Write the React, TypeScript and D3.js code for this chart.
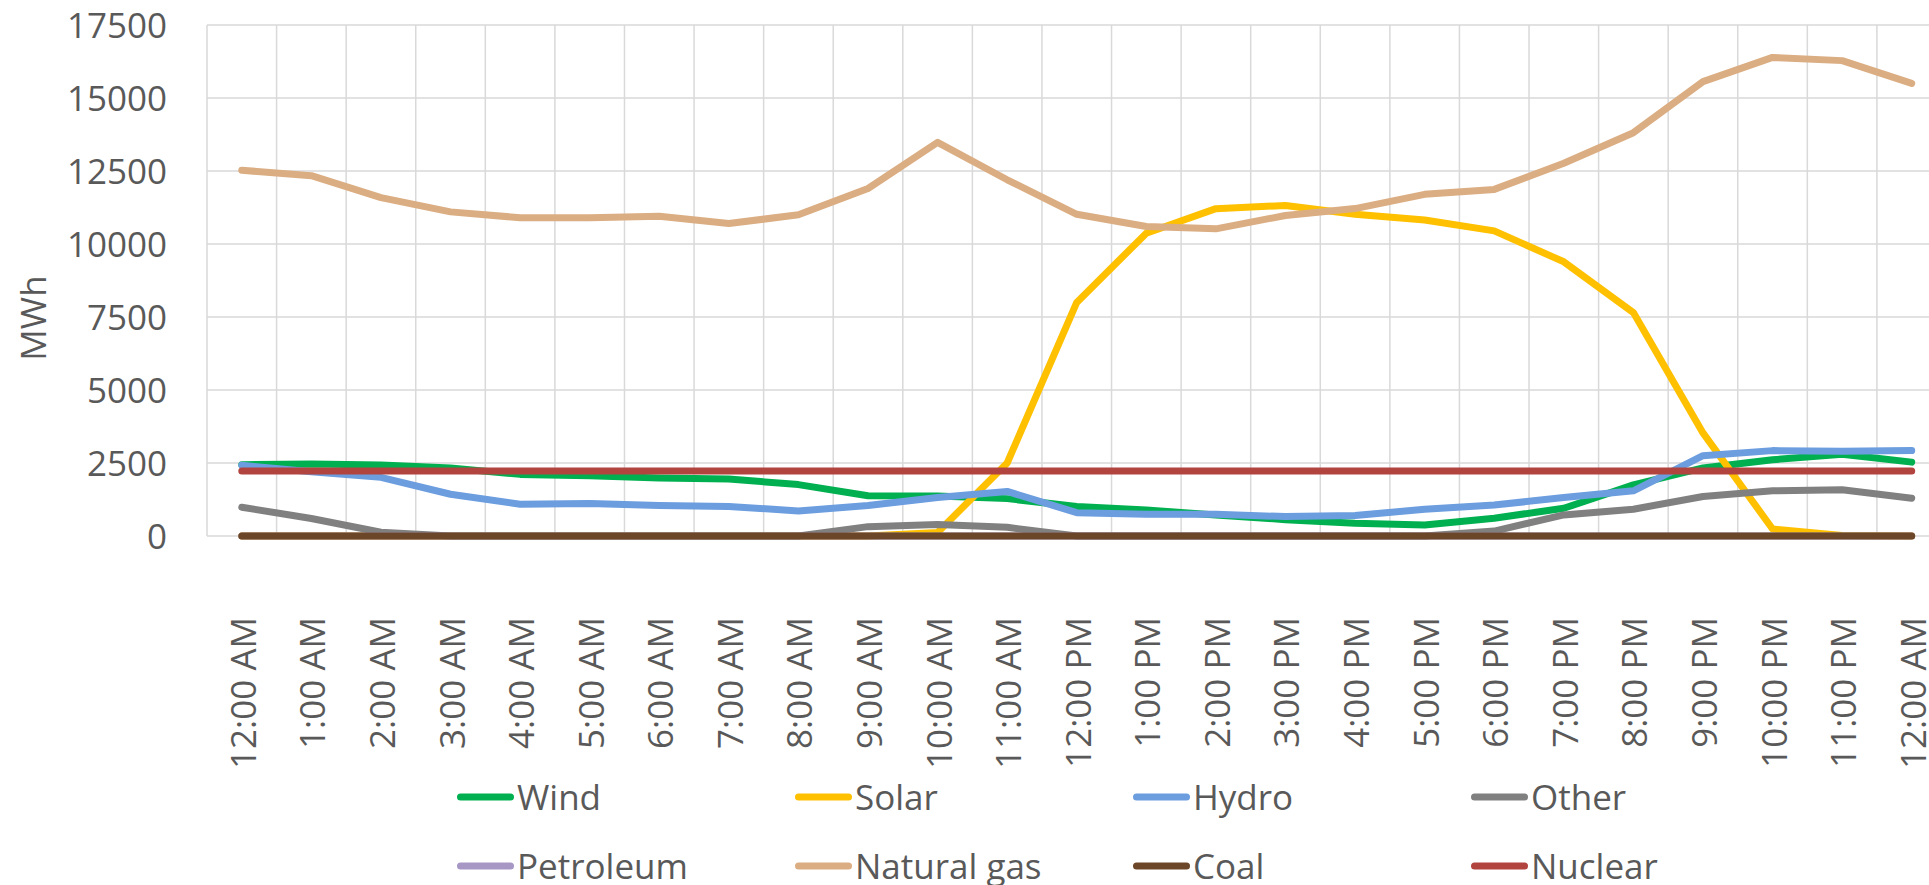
import React from "react";
import * as d3 from "d3";

// Hourly generation by source over one day (MWh)
const hours = [
  "12:00 AM", "1:00 AM", "2:00 AM", "3:00 AM", "4:00 AM", "5:00 AM", "6:00 AM",
  "7:00 AM", "8:00 AM", "9:00 AM", "10:00 AM", "11:00 AM", "12:00 PM", "1:00 PM",
  "2:00 PM", "3:00 PM", "4:00 PM", "5:00 PM", "6:00 PM", "7:00 PM", "8:00 PM",
  "9:00 PM", "10:00 PM", "11:00 PM", "12:00 AM",
];

const wind = [2442, 2470, 2430, 2330, 2110, 2060, 1990, 1950, 1760, 1380, 1370, 1280, 1010, 890, 720, 560, 440, 380, 610, 950, 1750, 2330, 2610, 2800, 2530];
const solar = [0, 0, 0, 0, 0, 0, 0, 0, 0, 0, 120, 2500, 8000, 10370, 11210, 11320, 11020, 10820, 10450, 9390, 7650, 3530, 240, 20, 0];
const hydro = [2420, 2200, 2010, 1430, 1090, 1110, 1043, 1010, 860, 1043, 1318, 1525, 800, 745, 745, 665, 699, 917, 1060, 1318, 1548, 2752, 2924, 2901, 2924];
const other = [986, 600, 130, 0, 0, 0, 0, 0, 0, 321, 390, 298, 0, 0, 0, 0, 0, 0, 170, 722, 917, 1353, 1548, 1582, 1296];
const petroleum = [0, 0, 0, 0, 0, 0, 0, 0, 0, 0, 0, 0, 0, 0, 0, 0, 0, 0, 0, 0, 0, 0, 0, 0, 0];
const naturalGas = [12525, 12340, 11590, 11100, 10900, 10900, 10950, 10700, 11000, 11900, 13480, 12200, 11017, 10600, 10520, 10977, 11213, 11700, 11870, 12764, 13812, 15560, 16390, 16280, 15500];
const coal = [0, 0, 0, 0, 0, 0, 0, 0, 0, 0, 0, 0, 0, 0, 0, 0, 0, 0, 0, 0, 0, 0, 0, 0, 0];
const nuclear = [2230, 2230, 2230, 2230, 2230, 2230, 2230, 2230, 2230, 2225, 2230, 2230, 2230, 2230, 2230, 2230, 2230, 2230, 2230, 2230, 2230, 2230, 2230, 2230, 2230];

const yTicks = [0, 2500, 5000, 7500, 10000, 12500, 15000, 17500];

const seriesNames = ["Wind", "Solar", "Hydro", "Other", "Petroleum", "Natural gas", "Coal", "Nuclear"];
const seriesValues = [wind, solar, hydro, other, petroleum, naturalGas, coal, nuclear];
const seriesColors = ["#00B050", "#FFC000", "#6B9DDF", "#808080", "#A797C4", "#DBAD82", "#6C4628", "#B24440"];

const W = 1929;
const H = 885;
const plot = { left: 207, top: 25, bottom: 536, step: 69.58 };
const FONT = "'Open Sans', 'Noto Sans', sans-serif";
const TEXT = "#595959";
const GRID = "#d9d9d9";

export default function App() {
  const idx = hours.map((_, i) => i);
  const x = d3
    .scaleBand<number>()
    .domain(idx)
    .range([plot.left, plot.left + plot.step * hours.length])
    .padding(0);
  const y = d3.scaleLinear().domain([0, 17500]).range([plot.bottom, plot.top]);
  const cx = (i: number) => (x(i) as number) + x.bandwidth() / 2;
  const right = plot.left + plot.step * hours.length;

  const line = d3
    .line<number>()
    .x((_, i) => cx(i))
    .y((d) => y(d));

  const gridX = d3.range(hours.length + 1).map((k) => plot.left + k * x.bandwidth());

  const legendCols = [457, 795, 1133, 1471];
  const legendRows = [797, 866];

  return (
    <svg
      width={W}
      height={H}
      style={{ position: "absolute", left: 0, top: 0, display: "block", background: "#fff" }}
      fontFamily={FONT}
    >
      {/* grid */}
      <g stroke={GRID} strokeWidth={1.5}>
        {yTicks.map((t) => (
          <line key={"h" + t} x1={plot.left} x2={right} y1={y(t)} y2={y(t)} />
        ))}
        {gridX.map((gx, k) => (
          <line key={"v" + k} x1={gx} x2={gx} y1={plot.top} y2={plot.bottom} />
        ))}
      </g>

      {/* y axis labels */}
      <g fill={TEXT} fontSize={35} textAnchor="end">
        {yTicks.map((t) => (
          <text key={t} x={167} y={y(t) + 12.5}>
            {t}
          </text>
        ))}
      </g>
      <text
        transform={`translate(46,318) rotate(-90)`}
        textAnchor="middle"
        fill={TEXT}
        fontSize={35}
      >
        MWh
      </text>

      {/* x axis labels */}
      <g fill={TEXT} fontSize={35} textAnchor="end">
        {hours.map((h, i) => (
          <text key={i} transform={`translate(${cx(i) + 14},617) rotate(-90)`}>
            {h}
          </text>
        ))}
      </g>

      {/* series */}
      <g fill="none" strokeWidth={7} strokeLinecap="round" strokeLinejoin="round">
        {seriesValues.map((vals, s) => (
          <path key={seriesNames[s]} d={line(vals) as string} stroke={seriesColors[s]} />
        ))}
      </g>

      {/* legend */}
      <g fontSize={35} fill={TEXT}>
        {seriesNames.map((name, s) => {
          const lx = legendCols[s % 4];
          const ly = legendRows[Math.floor(s / 4)];
          return (
            <g key={name}>
              <line
                x1={lx + 3.5}
                x2={lx + 57 - 3.5}
                y1={ly}
                y2={ly}
                stroke={seriesColors[s]}
                strokeWidth={7}
                strokeLinecap="round"
              />
              <text x={lx + 60} y={ly + 12.5}>
                {name}
              </text>
            </g>
          );
        })}
      </g>
    </svg>
  );
}
